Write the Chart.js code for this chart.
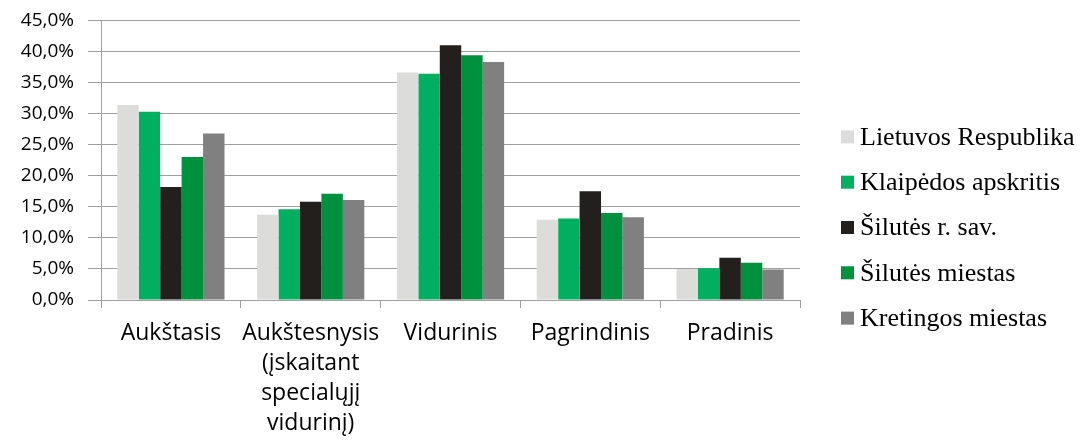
<!DOCTYPE html>
<html>
<head>
<meta charset="utf-8">
<script src="https://cdn.jsdelivr.net/npm/chart.js@4/dist/chart.umd.min.js"></script>
<style>
  html, body { margin: 0; padding: 0; background: #fff; }
  #wrap { width: 1082px; height: 445px; }
</style>
</head>
<body>
<div id="wrap"><canvas id="chart-canvas"></canvas></div>
<script>
var categories = ['Aukštasis', ['Aukštesnysis', '(įskaitant', 'specialųjį', 'vidurinį)'], 'Vidurinis', 'Pagrindinis', 'Pradinis'];
var seriesNames = ['Lietuvos Respublika', 'Klaipėdos apskritis', 'Šilutės r. sav.', 'Šilutės miestas', 'Kretingos miestas'];
var lietuva = [31.4, 13.7, 36.6, 12.9, 5.0];
var klaipeda = [30.3, 14.6, 36.4, 13.1, 5.1];
var silutesRaj = [18.2, 15.8, 41.0, 17.5, 6.8];
var silutesMiestas = [23.0, 17.1, 39.4, 14.0, 6.0];
var kretinga = [26.8, 16.1, 38.3, 13.3, 4.9];
var colors = ['#dcdcdb', '#00b060', '#231f1c', '#00913f', '#808080'];
var yTicks = [0, 5, 10, 15, 20, 25, 30, 35, 40, 45];

var seriesValues = [lietuva, klaipeda, silutesRaj, silutesMiestas, kretinga];
var gridColor = '#a0a0a0';

// legend drawn by hand so the gap between box and text matches the original
var sideLegend = {
    id: 'sideLegend',
    afterDraw: function(chart) {
        var ctx = chart.ctx;
        var area = chart.chartArea;
        var rowGap = 45.3;
        var n = chart.data.datasets.length;
        var firstY = chart.height / 2 + 5 - rowGap * (n - 1) / 2;
        var boxX = area.right + 41;
        ctx.save();
        ctx.font = '26px "Liberation Serif"';
        ctx.textBaseline = 'middle';
        chart.data.datasets.forEach(function(ds, i) {
            var y = firstY + i * rowGap;
            ctx.fillStyle = ds.backgroundColor;
            ctx.fillRect(boxX, y - 6.5, 13, 13);
            ctx.fillStyle = '#000';
            ctx.fillText(ds.label, boxX + 19, y + 1);
        });
        ctx.restore();
    }
};

var ctx = document.getElementById('chart-canvas');

new Chart(ctx, {
    type: 'bar',
    data: {
        labels: categories,
        datasets: seriesNames.map(function(name, i) {
            return {
                label: name,
                data: seriesValues[i],
                backgroundColor: colors[i],
                borderWidth: 0,
                barPercentage: 1,
                categoryPercentage: 0.767
            };
        })
    },
    options: {
        responsive: true,
        maintainAspectRatio: false,
        animation: false,
        layout: { padding: { top: 0, left: 0, right: 282, bottom: 7 } },
        plugins: {
            tooltip: { enabled: false },
            legend: { display: false }
        },
        scales: {
            x: {
                afterFit: function(axis) { axis.height = 138; },
                grid: { drawOnChartArea: false, offset: true, color: gridColor, tickLength: 8 },
                border: { color: gridColor },
                ticks: {
                    color: '#000',
                    font: { family: 'Open Sans', size: 23, lineHeight: 30 / 23 },
                    maxRotation: 0,
                    autoSkip: false,
                    padding: 10
                }
            },
            y: {
                min: 0,
                max: 45,
                afterBuildTicks: function(axis) {
                    axis.ticks = yTicks.map(function(v) { return { value: v }; });
                },
                afterFit: function(axis) { axis.width = 101; },
                grid: { color: gridColor, tickLength: 13 },
                border: { color: gridColor },
                ticks: {
                    color: '#000',
                    font: { family: 'Open Sans', size: 19, lineHeight: 0.67 },
                    padding: 14,
                    callback: function(v) { return v.toFixed(1).replace('.', ',') + '%'; }
                }
            }
        }
    },
    plugins: [sideLegend]
});
</script>
</body>
</html>
